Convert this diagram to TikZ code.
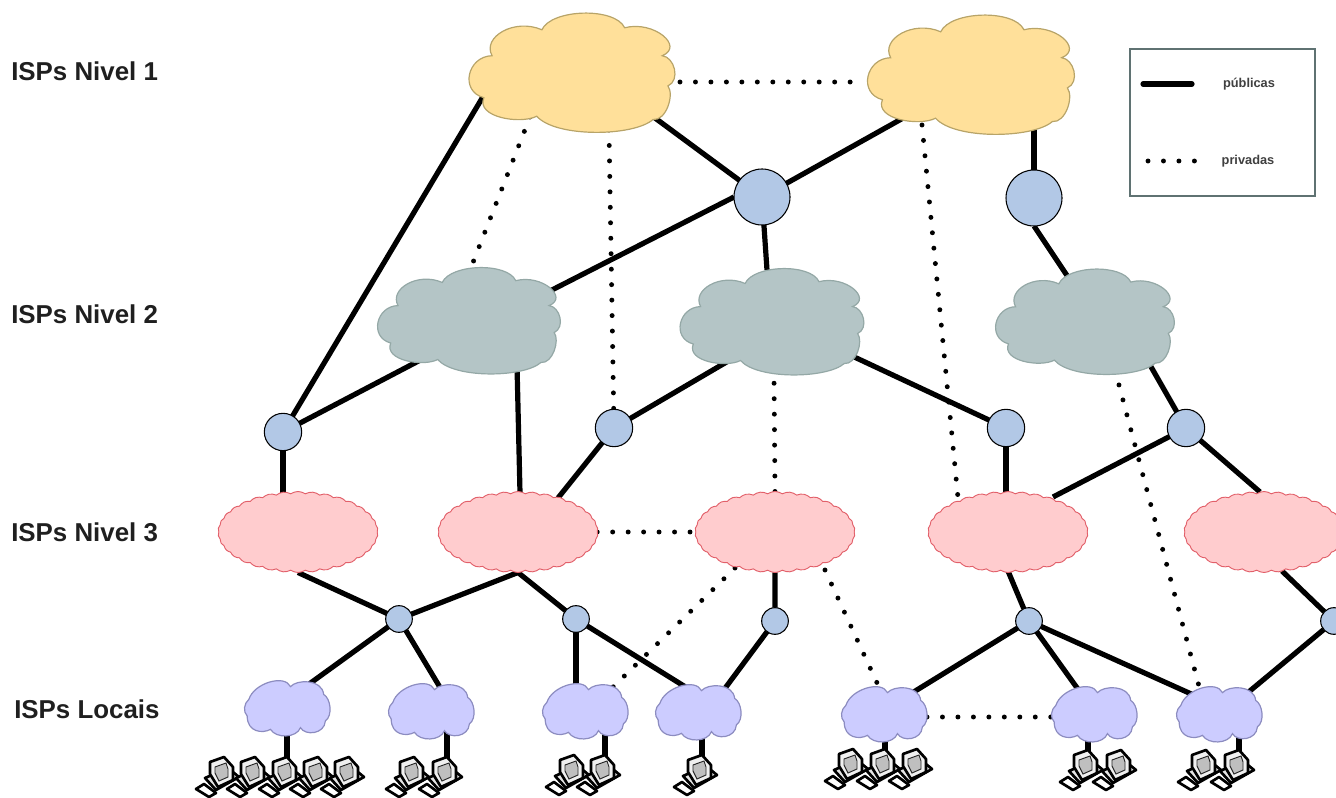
\documentclass[tikz,border=0pt]{standalone}
\usepackage{fontspec}
\setmainfont{Liberation Sans}
\usetikzlibrary{shapes.symbols}
\pgfdeclarelayer{bg}
\pgfsetlayers{bg,main}
\definecolor{yfill}{HTML}{FFE09A}\definecolor{ydraw}{HTML}{B8A468}
\definecolor{gfill}{HTML}{B4C5C6}\definecolor{gdraw}{HTML}{94A8A6}
\definecolor{pfill}{HTML}{FFCCCE}\definecolor{pdraw}{HTML}{E2606A}
\definecolor{vfill}{HTML}{CCCCFF}\definecolor{vdraw}{HTML}{8C8CC0}
\definecolor{rfill}{HTML}{B2C8E6}\definecolor{ldraw}{HTML}{5F7272}
\newcommand\bigcloudpath{(.353,.14) .. controls (.40,-.035) and (.71,-.05) .. (.757,.123)
 .. controls (.90,.06) and (1.05,.28) .. (.94,.356)
 .. controls (1.0,.367) and (1.03,.56) .. (.968,.608)
 .. controls (1.0,.68) and (.96,.90) .. (.895,.888)
 .. controls (.80,1.03) and (.42,1.04) .. (.328,.86)
 .. controls (.25,.93) and (.03,.87) .. (.07,.706)
 .. controls (-.05,.651) and (-.01,.36) .. (.11,.356)
 .. controls (.06,.20) and (.22,.04) .. (.353,.14) -- cycle}
\newcommand\smallcloudpath{(.04,.32) .. controls (.10,.02) and (.46,-.15) .. (.53,.086)
 .. controls (.60,-.05) and (.90,-.06) .. (.92,.23)
 .. controls (1.0,.30) and (1.03,.62) .. (.94,.72)
 .. controls (.93,.97) and (.70,1.0) .. (.647,.845)
 .. controls (.60,1.04) and (.36,1.05) .. (.294,.877)
 .. controls (.20,.96) and (.02,.93) .. (.02,.63)
 .. controls (-.03,.55) and (-.02,.40) .. (.04,.32) -- cycle}
% #1 path, #2 name, #3 cx, #4 cy, #5 w, #6 h, #7 style
\newcommand\blobnode[7]{%
 \node[minimum width=#5*0.75pt,minimum height=#6*0.75pt,inner sep=0pt,outer sep=0pt] (#2) at (#3,#4) {};
 \begin{scope}[shift={({#3-#5/2},{#4-#6/2})},x=#5*0.75pt,y=-#6*0.75pt]
  \path[#7] #1;
 \end{scope}}
\tikzset{
 pub/.style={line width=3.9pt,line cap=butt},
 priv/.style={line width=3.7pt,line cap=round,dash pattern=on 0pt off 11.6pt},
 yc/.style={fill=yfill,draw=ydraw,line width=.9pt},
 gc/.style={fill=gfill,draw=gdraw,line width=.9pt},
 vc/.style={fill=vfill,draw=vdraw,line width=.9pt},
 tier3/.style={cloud,cloud ignores aspect,cloud puffs=34,cloud puff arc=70,fill=pfill,draw=pdraw,line width=.7pt,minimum width=160*0.75pt,minimum height=81*0.75pt,inner sep=0pt,outer sep=0pt},
 rout/.style={circle,fill=rfill,draw=black,line width=.8pt,inner sep=0pt,outer sep=0pt},
 lab/.style={font=\fontsize{19.4pt}{22pt}\selectfont\bfseries,anchor=west,text=black!88,inner sep=0pt},
 leglab/.style={font=\fontsize{9.6pt}{11pt}\selectfont\bfseries,text=black!75,inner sep=0pt},
 pics/pc/.style={code={
  \coordinate (-top) at (0,0);
  \path[fill=white,draw=black,line width=2pt,line join=round] (-28,29) -- (-20,24) -- (-8,33) -- (-15,37) -- cycle;
  \path[fill=black!10,draw=black,line width=2pt,line join=round] (-19,18) -- (-8,30) -- (15,17) -- (4,8) -- cycle;
  \path[fill=black!6,draw=black,line width=2pt,line join=round] (-14,2) -- (0,-3) -- (9,7) -- (9,20) -- (-6,27) -- (-14,14) -- cycle;
  \path[fill=black!25,draw=black!85,line width=.7pt] (-9,7) -- (2,3) -- (4,9) -- (4,17) -- (-5,21) -- (-9,13) -- cycle;
 }}
}
\begin{document}
\begin{tikzpicture}[x=0.75pt,y=-0.75pt]
\useasboundingbox (0,0) rectangle (1336,798);
\blobnode{\bigcloudpath}{A}{572}{73}{205}{120}{yc}
\blobnode{\bigcloudpath}{B}{971}{75}{206}{120}{yc}
\blobnode{\bigcloudpath}{C}{469}{321}{182}{107}{gc}
\blobnode{\bigcloudpath}{D}{772}{322}{183}{107}{gc}
\blobnode{\bigcloudpath}{E}{1085}{322}{178}{106}{gc}
\node[tier3] (F) at (298,532) {};
\node[tier3] (G) at (518,532) {};
\node[tier3] (H) at (775,532) {};
\node[tier3] (I) at (1008,532) {};
\node[tier3] (J) at (1264,532) {};
\blobnode{\smallcloudpath}{K}{288}{709}{85}{54}{vc}
\blobnode{\smallcloudpath}{L}{432}{712}{85}{54}{vc}
\blobnode{\smallcloudpath}{M}{586}{712}{85}{54}{vc}
\blobnode{\smallcloudpath}{N}{699}{713}{85}{54}{vc}
\blobnode{\smallcloudpath}{O}{885}{715}{85}{54}{vc}
\blobnode{\smallcloudpath}{P}{1095}{715}{85}{54}{vc}
\blobnode{\smallcloudpath}{Q}{1220}{715}{85}{54}{vc}
\node[rout,minimum size=42pt] (Ra) at (762,197) {};
\node[rout,minimum size=42pt] (Rb) at (1034,198) {};
\node[rout,minimum size=28pt] (Rc) at (283,432) {};
\node[rout,minimum size=28pt] (Rd) at (614,428) {};
\node[rout,minimum size=28pt] (Re) at (1006,428) {};
\node[rout,minimum size=28pt] (Rf) at (1186,428) {};
\node[rout,minimum size=20pt] (Rg) at (399,619) {};
\node[rout,minimum size=20pt] (Rh) at (576,619) {};
\node[rout,minimum size=20pt] (Ri) at (775,621) {};
\node[rout,minimum size=20pt] (Rj) at (1029,621) {};
\node[rout,minimum size=20pt] (Rk) at (1334,621) {};
\node[lab] (t1) at (11,71) {ISPs Nivel 1};
\node[lab] (t2) at (11,314) {ISPs Nivel 2};
\node[lab] (t3) at (11,532) {ISPs Nivel 3};
\node[lab] (t4) at (14,709) {ISPs Locais};
\foreach \n/\x/\y in {K1/224/760,K2/255/760,K3/287/760,K4/318/760,K5/349/760,
 L1/414/760,L2/447/760,M1/574/758,M2/605/758,N1/702/758,
 O1/853/752,O2/885/752,O3/917/752,P1/1088/753,P2/1121/753,Q1/1206/753,Q2/1239/753}
 \pic (pc\n) at (\x,\y) {pc};
\node[draw=ldraw,line width=1.1pt,fill=white,minimum width=185*0.75pt,minimum height=147*0.75pt,inner sep=0pt] (legend) at (1222.5,122.5) {};
\node[leglab] (legpub) at (1249,84) {públicas};
\node[leglab] (legpriv) at (1248,161) {privadas};
\coordinate (la) at (1143,84);
\coordinate (lb) at (1192,84);
\coordinate (lc) at (1148,161);
\coordinate (ld) at (1196,161);
\draw[pub,line cap=round] (la) -- (lb);
\draw[priv] (lc) -- (ld);
\begin{pgfonlayer}{bg}
\draw[pub] ([shift={(83,45)}]A.center) -- (Ra);
\draw[pub] ([shift={(-66,42)}]B.center) -- (Ra);
\draw[pub] ([shift={(-88,22)}]A.center) -- (Rc);
\draw[pub] ([shift={(79,-29)}]C.center) -- (Ra.west);
\draw[pub] ([shift={(-5,-52)}]D.center) -- (Ra);
\draw[pub] ([shift={(63,53)}]B.center) -- (Rb);
\draw[pub] ([shift={(-17,-45)}]E.center) -- (Rb.south);
\draw[pub] ([shift={(-39,34)}]C.center) -- (Rc);
\draw[pub] (Rc) -- ([shift={(-15,-39)}]F.center);
\draw[pub] ([shift={(48,44)}]C.center) -- ([shift={(2,-39)}]G.center);
\draw[pub] ([shift={(-42,38)}]D.center) -- (Rd);
\draw[pub] (Rd) -- ([shift={(40,-34)}]G.center);
\draw[pub] ([shift={(78,33)}]D.center) -- (Re);
\draw[pub] (Re) -- ([shift={(-2,-39)}]I.center);
\draw[pub] ([shift={(65,43)}]E.center) -- (Rf);
\draw[pub] (Rf) -- ([shift={(45,-35)}]I.center);
\draw[pub] (Rf) -- ([shift={(-4,-40)}]J.center);
\draw[pub] (F.south) -- (Rg);
\draw[pub] (G.south) -- (Rg);
\draw[pub] (G.south) -- (Rh);
\draw[pub] (H.south) -- (Ri);
\draw[pub] ([shift={(0,39)}]I.center) -- (Rj);
\draw[pub] ([shift={(18,39)}]J.center) -- (Rk);
\draw[pub] (Rg) -- ([shift={(17,-22)}]K.center);
\draw[pub] (Rg) -- ([shift={(9,-23)}]L.center);
\draw[pub] (Rh) -- ([shift={(-10,-22)}]M.center);
\draw[pub] (Rh) -- ([shift={(-7,-22)}]N.center);
\draw[pub] (Ri) -- ([shift={(24,-22)}]N.center);
\draw[pub] (Rj) -- ([shift={(27,-22)}]O.center);
\draw[pub] (Rj) -- ([shift={(-15,-23)}]P.center);
\draw[pub] (Rj) -- ([shift={(-22,-18)}]Q.center);
\draw[pub] (Rk) -- ([shift={(25,-20)}]Q.center);
\draw[pub] ([shift={(-1,20)}]K.center) -- (pcK3-top);
\draw[pub] ([shift={(15,20)}]L.center) -- (pcL2-top);
\draw[pub] ([shift={(19,20)}]M.center) -- (pcM2-top);
\draw[pub] ([shift={(3,20)}]N.center) -- (pcN1-top);
\draw[pub] ([shift={(0,20)}]O.center) -- (pcO2-top);
\draw[pub] ([shift={(-7,20)}]P.center) -- (pcP1-top);
\draw[pub] ([shift={(19,20)}]Q.center) -- (pcQ2-top);
\draw[priv] ([shift={(108,9)}]A.center) -- ([shift={(-111,7)}]B.center);
\draw[priv] ([shift={(-42,44)}]A.center) -- ([shift={(3,-56)}]C.center);
\draw[priv] ([shift={(37,57)}]A.center) -- (Rd);
\draw[priv] (H.north) -- ([shift={(2,53)}]D.center);
\draw[priv] ([shift={(-49,50)}]B.center) -- ([shift={(-50,-34)}]I.center);
\draw[priv] (G.east) -- (H.west);
\draw[priv] ([shift={(-40,36)}]H.center) -- ([shift={(24,-22)}]M.center);
\draw[priv] ([shift={(50,38)}]H.center) -- ([shift={(-7,-30)}]O.center);
\draw[priv] ([shift={(30,48)}]E.center) -- ([shift={(-20,-25)}]Q.center);
\draw[priv] ([shift={(42,2)}]O.center) -- ([shift={(-42,2)}]P.center);
\end{pgfonlayer}
\end{tikzpicture}
\end{document}
